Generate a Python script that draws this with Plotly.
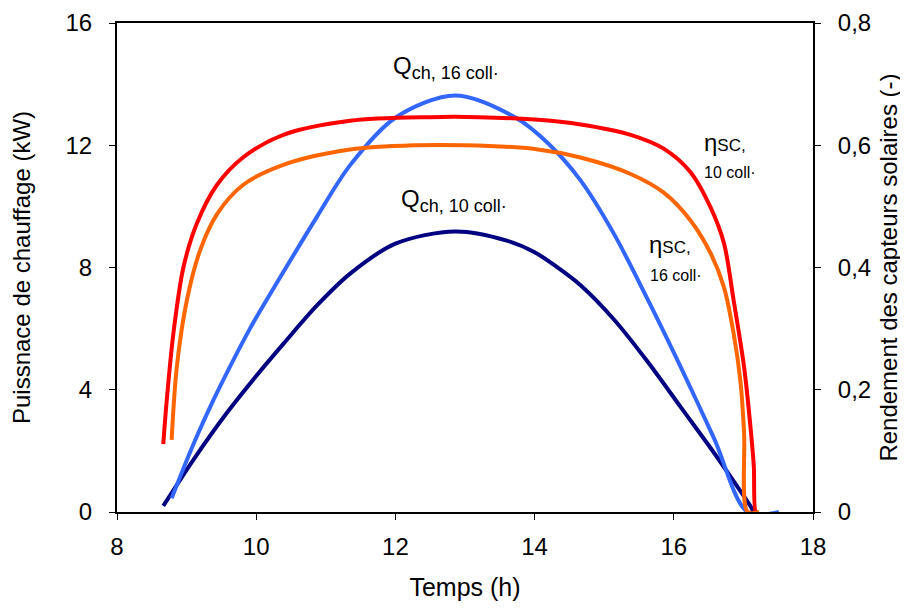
import plotly.graph_objects as go

# Q_ch, 10 collecteurs (kW) - navy
t_q10 = [8.665, 9.095, 9.574, 10.0, 10.39, 10.87, 11.35, 12.0, 12.86, 13.6, 14.0, 14.33, 14.66, 15.14, 15.63, 16.1, 16.58, 16.82, 17.11, 17.14]
q10 = [0.2, 1.70, 3.23, 4.45, 5.5, 6.75, 7.8, 8.78, 9.18, 8.88, 8.5, 8.0, 7.42, 6.3, 4.9, 3.43, 1.93, 1.14, 0.16, 0.0]

# Q_ch, 16 collecteurs (kW) - blue
t_q16 = [8.785, 9.095, 9.383, 9.6, 9.91, 10.39, 10.87, 11.35, 12.0, 12.86, 13.73, 14.2, 14.66, 15.14, 15.63, 16.1, 16.58, 17.06, 17.51]
q16 = [0.45, 2.2, 3.65, 4.65, 6.0, 7.85, 9.65, 11.35, 12.9, 13.63, 12.9, 12.05, 10.85, 9.1, 6.93, 4.74, 2.4, 0.0, 0.0]

# Rendement, 10 collecteurs (-) - red
t_e10 = [8.665, 8.715, 8.81, 8.954, 9.147, 9.435, 9.81, 10.39, 11.35, 12.5, 13.2, 14.0, 14.66, 15.38, 15.86, 16.24, 16.53, 16.72, 16.86, 17.01, 17.11, 17.15, 17.18, 17.22]
e10 = [0.111, 0.183, 0.292, 0.40, 0.472, 0.535, 0.58, 0.617, 0.64, 0.646, 0.646, 0.642, 0.634, 0.617, 0.594, 0.556, 0.498, 0.44, 0.346, 0.237, 0.129, 0.074, 0.0, 0.0]

# Rendement, 16 collecteurs (-) - orange
t_e16 = [8.785, 8.859, 9.003, 9.194, 9.435, 9.81, 10.39, 11.35, 12.3, 13.0, 14.0, 14.66, 15.38, 15.86, 16.24, 16.53, 16.72, 16.86, 16.96, 17.01, 17.06, 17.22]
e16 = [0.118, 0.237, 0.346, 0.428, 0.487, 0.535, 0.568, 0.593, 0.60, 0.60, 0.594, 0.58, 0.553, 0.522, 0.477, 0.423, 0.368, 0.292, 0.211, 0.129, 0.0, 0.0]

x_ticks = [8, 10, 12, 14, 16, 18]
y_ticks = [0, 4, 8, 12, 16]
y2_ticks = [0, 0.2, 0.4, 0.6, 0.8]

FONT = "Liberation Sans, Arial, sans-serif"
SM = 0.9

fig = go.Figure()
fig.add_trace(go.Scatter(x=t_e10, y=e10, yaxis="y2", mode="lines",
                         line=dict(color="#FF0000", width=4, shape="spline", smoothing=SM)))
fig.add_trace(go.Scatter(x=t_e16, y=e16, yaxis="y2", mode="lines",
                         line=dict(color="#FF6600", width=4, shape="spline", smoothing=SM)))
fig.add_trace(go.Scatter(x=t_q10, y=q10, mode="lines",
                         line=dict(color="#000080", width=4, shape="spline", smoothing=SM)))
fig.add_trace(go.Scatter(x=t_q16, y=q16, mode="lines",
                         line=dict(color="#3366FF", width=4, shape="spline", smoothing=SM)))

ann_font = dict(family=FONT, size=24, color="black")
annotations = [
    dict(x=11.93, y=14.54, text="Q<sub><span style='font-size:18px'>ch, 16 coll·</span></sub>", xanchor="left", yanchor="middle"),
    dict(x=12.05, y=10.2, text="Q<sub><span style='font-size:18px'>ch, 10 coll·</span></sub>", xanchor="left", yanchor="middle"),
    dict(x=16.4, y=12.1, text="η<span style='font-size:17px'>SC,</span>", xanchor="left", yanchor="middle"),
    dict(x=16.41, y=11.1, text="<span style='font-size:16px'>10 coll·</span>", xanchor="left", yanchor="middle"),
    dict(x=15.62, y=8.75, text="η<span style='font-size:17px'>SC,</span>", xanchor="left", yanchor="middle"),
    dict(x=15.63, y=7.75, text="<span style='font-size:16px'>16 coll·</span>", xanchor="left", yanchor="middle"),
]
for a in annotations:
    a.update(xref="x", yref="y", showarrow=False, font=ann_font)

fig.update_layout(
    width=908, height=610,
    margin=dict(l=109, r=103, t=15, b=106),
    paper_bgcolor="white", plot_bgcolor="white",
    showlegend=False,
    separators=", ",
    font=dict(family=FONT, size=24, color="black"),
    annotations=annotations,
    xaxis=dict(range=[8, 18], tickvals=x_ticks, showgrid=False, zeroline=False, automargin=False,
               showline=True, linecolor="black", linewidth=2, mirror=True,
               ticks="outside", ticklen=6, tickcolor="black", ticklabelstandoff=6,
               title=dict(text="Temps (h)", standoff=20, font=dict(size=25)),
               tickfont=dict(size=24)),
    yaxis=dict(range=[0, 16], tickvals=y_ticks, showgrid=False, zeroline=False, automargin=False,
               showline=True, linecolor="black", linewidth=2,
               ticks="outside", ticklen=6, tickcolor="black", ticklabelstandoff=12,
               title=dict(text="Puissnace de chauffage (kW)", standoff=28, font=dict(size=24)),
               tickfont=dict(size=24)),
    yaxis2=dict(range=[0, 0.8], tickvals=y2_ticks, overlaying="y", side="right", automargin=False,
                showgrid=False, zeroline=False, showline=True, linecolor="black", linewidth=2,
                ticks="outside", ticklen=6, tickcolor="black", ticklabelstandoff=12,
                title=dict(text="Rendement des capteurs solaires (-)", standoff=10, font=dict(size=24)),
                tickfont=dict(size=24)),
)

fig.write_html("out.html")
